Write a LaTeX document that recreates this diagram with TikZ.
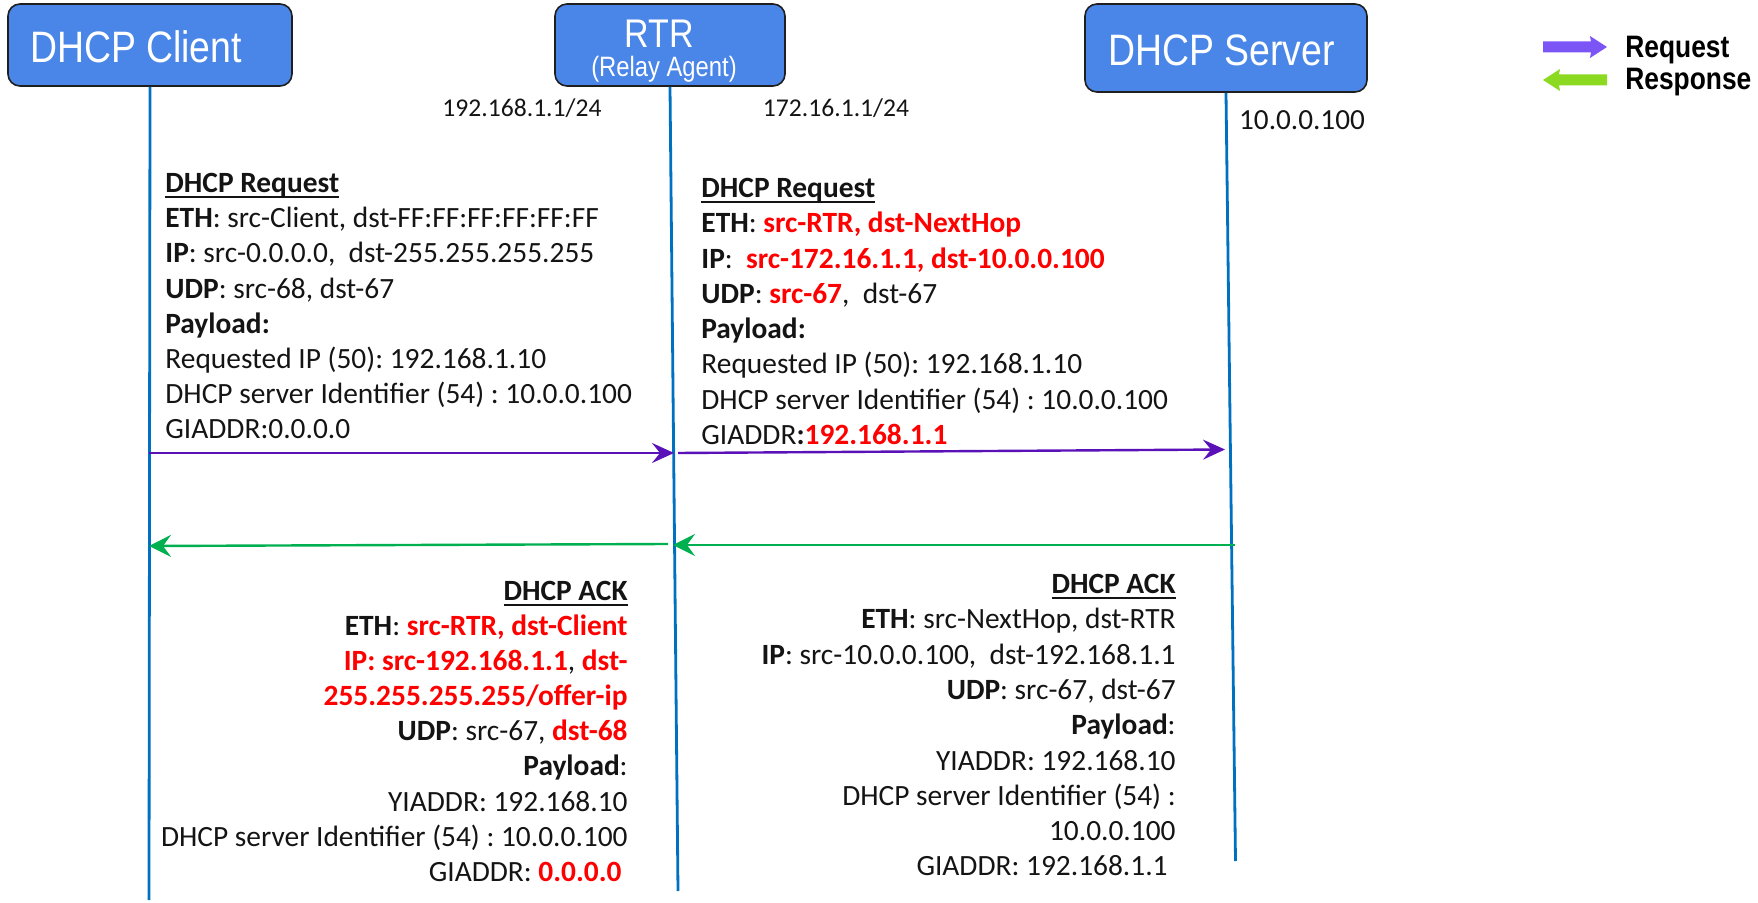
\documentclass[tikz,border=0pt]{standalone}
\usepackage{fontspec}
\setmainfont{Carlito}
\newfontfamily\boxfont[FakeStretch=0.85]{Liberation Sans}
\usetikzlibrary{arrows.meta}
\definecolor{boxblue}{HTML}{4A86E8}
\definecolor{boxedge}{HTML}{1F1F1F}
\definecolor{lifeblue}{HTML}{0070C0}
\definecolor{reqpurple}{HTML}{5A12B8}
\definecolor{respgreen}{HTML}{00B050}
\definecolor{hotred}{HTML}{FF0000}
\definecolor{legpurple}{HTML}{7C55F7}
\definecolor{leggreen}{HTML}{8CD921}
\definecolor{ink}{HTML}{141414}
\frenchspacing
\newcommand{\hl}[1]{\textcolor{hotred}{\textbf{#1}}}
% heading underline at a fixed depth below the baseline
\newcommand{\heading}[1]{\setbox0\hbox{\textbf{#1}}\rlap{\rule[-2.6pt]{\wd0}{0.9pt}}\box0}
\begin{document}
\begin{tikzpicture}[x=0.5pt,y=-0.5pt,
  entity/.style={draw=boxedge, line width=0.8pt, fill=boxblue, rounded corners=6pt, inner sep=0pt},
  lifeline/.style={draw=lifeblue, line width=1.4pt},
  req/.style={draw=reqpurple, line width=1.2pt, -{Stealth[length=11pt,width=10pt,inset=4pt]}},
  resp/.style={draw=respgreen, line width=1.2pt, -{Stealth[length=11pt,width=11pt,inset=4pt]}},
  title/.style={text=white, inner sep=0pt, font=\boxfont\fontsize{22}{26}\selectfont},
  ln/.style={anchor=base west, inner sep=0pt, text=ink, font=\fontsize{14.7}{17.6}\selectfont},
  rn/.style={anchor=base east, inner sep=0pt, text=ink, font=\fontsize{14.7}{17.6}\selectfont},
  addr/.style={anchor=base, inner sep=0pt, text=ink},
  legend/.style={anchor=base west, inner sep=0pt, text=black, font=\boxfont\bfseries\fontsize{15.5}{18}\selectfont}]
\useasboundingbox (0,0) rectangle (1758,903);

% participants
\node[entity, minimum width=142pt, minimum height=41pt] (client) at (150,45) {};
\node[entity, minimum width=115pt, minimum height=41pt] (rtr) at (670,45) {};
\node[entity, minimum width=141pt, minimum height=44pt] (server) at (1226,48) {};
\node[title] (clientlbl) at (136,47) {DHCP Client};
\node[title, font=\boxfont\fontsize{20}{24}\selectfont] (rtrlbl) at (659,34) {RTR};
\node[title, font=\boxfont\fontsize{14}{16}\selectfont] (rtrsub) at (664,69.5) {(Relay Agent)};
\node[title] (serverlbl) at (1221.5,50.5) {DHCP Server};

% lifelines
\coordinate (clientEnd) at (149,900);
\coordinate (rtrEnd) at (678,891);
\coordinate (serverEnd) at (1235.5,861);
\draw[lifeline] (client.south) -- (clientEnd);
\draw[lifeline] (rtr.south) -- (rtrEnd);
\draw[lifeline] (server.south) -- (serverEnd);

% interface addresses
\node[addr, font=\fontsize{12.8}{15}\selectfont] (ifin) at (522,117) {192.168.1.1/24};
\node[addr, font=\fontsize{12.8}{15}\selectfont] (ifout) at (836,117) {172.16.1.1/24};
\node[addr, font=\fontsize{14.6}{17}\selectfont] (srvip) at (1302,129.3) {10.0.0.100};

% legend
\fill[legpurple] (1543,41.5) -- (1591,41.5) -- (1590,36) -- (1607,47) -- (1590,58) -- (1591,52.5) -- (1543,52.5) -- cycle;
\fill[leggreen] (1607,74.5) -- (1559,74.5) -- (1560,69) -- (1543,80) -- (1560,91) -- (1559,85.5) -- (1607,85.5) -- cycle;
\node[legend] (legreq) at (1625,58) {Request};
\node[legend] (legresp) at (1625,90) {Response};

% message anchors on the lifelines
\coordinate (reqC) at (149,453);
\coordinate (reqR) at (674,453);
\coordinate (reqR2) at (678,453);
\coordinate (reqS) at (1225,449.5);
\coordinate (respS) at (1235,545);
\coordinate (respR) at (673,545);
\coordinate (respR2) at (668,544);
\coordinate (respC) at (149,546);

\draw[req] (reqC) -- (reqR);
\draw[req] (reqR2) -- (reqS);
\draw[resp] (respS) -- (respR);
\draw[resp] (respR2) -- (respC);

% request: client -> relay
\node[ln] (a1) at (165,192.5) {\heading{DHCP Request}};
\node[ln] (a2) at (165,227.7) {\textbf{ETH}: src-Client, dst-FF:FF:FF:FF:FF:FF};
\node[ln] (a3) at (165,262.9) {\textbf{IP}: src-0.0.0.0,\ \ dst-255.255.255.255};
\node[ln] (a4) at (165,298.1) {\textbf{UDP}: src-68, dst-67};
\node[ln] (a5) at (165,333.3) {\textbf{Payload:}};
\node[ln] (a6) at (165,368.5) {Requested IP (50): 192.168.1.10};
\node[ln] (a7) at (165,403.7) {DHCP server Identifier (54) : 10.0.0.100};
\node[ln] (a8) at (165,438.9) {GIADDR:0.0.0.0};

% request: relay -> server
\node[ln] (b1) at (701,197.5) {\heading{DHCP Request}};
\node[ln] (b2) at (701,232.8) {\textbf{ETH}: \hl{src-RTR, dst-NextHop}};
\node[ln] (b3) at (701,268.1) {\textbf{IP}:\ \ \hl{src-172.16.1.1, dst-10.0.0.100}};
\node[ln] (b4) at (701,303.4) {\textbf{UDP}: \hl{src-67},\ \ dst-67};
\node[ln] (b5) at (701,338.7) {\textbf{Payload:}};
\node[ln] (b6) at (701,374) {Requested IP (50): 192.168.1.10};
\node[ln] (b7) at (701,409.3) {DHCP server Identifier (54) : 10.0.0.100};
\node[ln] (b8) at (701,444.6) {GIADDR\textbf{:}\hl{192.168.1.1}};

% ack: relay -> client
\node[rn] (c1) at (628,600.5) {\heading{DHCP ACK}};
\node[rn] (c2) at (628,635.6) {\textbf{ETH}: \hl{src-RTR, dst-Client}};
\node[rn] (c3) at (628,670.7) {\hl{IP: src-192.168.1.1}, \hl{dst-}};
\node[rn] (c4) at (628,705.8) {\hl{255.255.255.255/offer-ip}};
\node[rn] (c5) at (628,740.9) {\textbf{UDP}: src-67, \hl{dst-68}};
\node[rn] (c6) at (628,776) {\textbf{Payload}:};
\node[rn] (c7) at (628,811.1) {YIADDR: 192.168.10};
\node[rn] (c8) at (628,846.2) {DHCP server Identifier (54) : 10.0.0.100};
\node[rn] (c9) at (622,881.3) {GIADDR: \hl{0.0.0.0}};

% ack: server -> relay
\node[rn] (d1) at (1176,593.5) {\heading{DHCP ACK}};
\node[rn] (d2) at (1176,628.8) {\textbf{ETH}: src-NextHop, dst-RTR};
\node[rn] (d3) at (1176,664.1) {\textbf{IP}: src-10.0.0.100,\ \ dst-192.168.1.1};
\node[rn] (d4) at (1176,699.4) {\textbf{UDP}: src-67, dst-67};
\node[rn] (d5) at (1176,734.7) {\textbf{Payload}:};
\node[rn] (d6) at (1176,770) {YIADDR: 192.168.10};
\node[rn] (d7) at (1176,805.3) {DHCP server Identifier (54) :};
\node[rn] (d8) at (1176,840.6) {10.0.0.100};
\node[rn] (d9) at (1168,875.9) {GIADDR: 192.168.1.1};
\end{tikzpicture}
\end{document}
